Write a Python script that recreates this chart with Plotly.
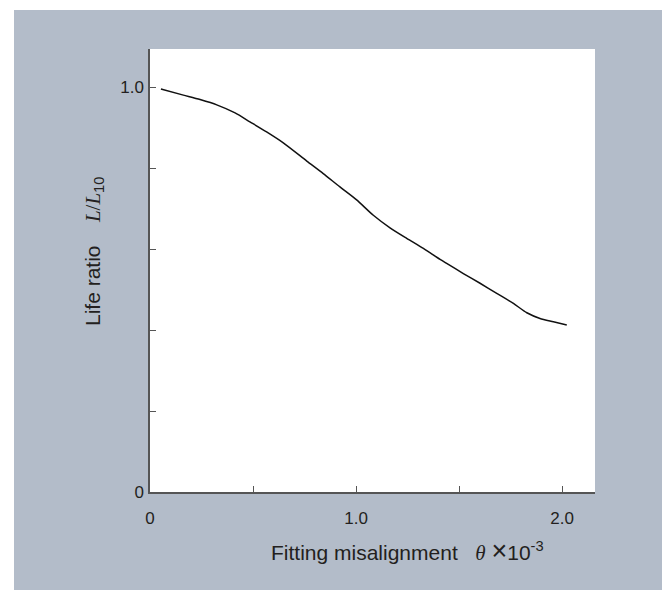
import plotly.graph_objects as go

# Data
misalignment = [0.053, 0.162, 0.243, 0.324, 0.413, 0.485, 0.566, 0.647,
                0.761, 0.841, 0.922, 1.003, 1.084, 1.165, 1.246, 1.327, 1.408,
                1.440, 1.521, 1.602, 1.683, 1.764, 1.829, 1.893, 1.958, 2.023]
life_ratio = [0.996, 0.981, 0.970, 0.957, 0.937, 0.915, 0.890, 0.863,
              0.818, 0.787, 0.754, 0.722, 0.684, 0.653, 0.627, 0.602, 0.575,
              0.565, 0.540, 0.516, 0.491, 0.466, 0.443, 0.429, 0.421, 0.413]

x_tickvals = [0, 0.5, 1.0, 1.5, 2.0]
x_ticktext = ["0", "", "1.0", "", "2.0"]
y_tickvals = [0, 0.2, 0.4, 0.6, 0.8, 1.0]
y_ticktext = ["0", "", "", "", "", "1.0"]

FONT = "Liberation Sans, Arial, Helvetica, sans-serif"
SERIF = "Liberation Serif, Times New Roman, serif"
TXT = "#231f20"
AX = "#555555"
BG = "#b3bcc9"

fig = go.Figure()
fig.add_trace(go.Scatter(x=misalignment, y=life_ratio, mode="lines",
                         line=dict(color="#111111", width=1.5, shape="spline", smoothing=0.7),
                         hoverinfo="skip", showlegend=False))

# page offset of 8px (default body margin) is compensated here
W, H = 662, 582
L, R, T, B = 142, 75, 41, 98
pw, ph = W - L - R, H - T - B


def px_x(x):
    return (x - 8 - L) / pw


def px_y(y):
    return (H - B - (y - 8)) / ph


fig.update_layout(
    width=W, height=H,
    margin=dict(l=L, r=R, t=T, b=B, pad=0),
    paper_bgcolor="white", plot_bgcolor="white",
    font=dict(family=FONT, size=17, color=TXT),
    shapes=[
        dict(type="rect", xref="paper", yref="paper", layer="below",
             x0=px_x(14), x1=px_x(665), y0=px_y(600), y1=px_y(10),
             fillcolor=BG, line=dict(width=0)),
        dict(type="rect", xref="paper", yref="paper", layer="below",
             x0=0, x1=1, y0=0, y1=1, fillcolor="white", line=dict(width=0)),
    ],
    xaxis=dict(range=[0, 2.16], tickvals=x_tickvals, ticktext=x_ticktext,
               ticks="inside", ticklen=6, tickcolor=AX, tickwidth=1,
               showline=True, linecolor=AX, linewidth=1.5, showgrid=False,
               zeroline=False, ticklabelstandoff=10,
               tickfont=dict(family=FONT, size=17, color=TXT)),
    yaxis=dict(range=[0, 1.095], tickvals=y_tickvals, ticktext=y_ticktext,
               ticks="inside", ticklen=6, tickcolor=AX, tickwidth=1,
               showline=True, linecolor=AX, linewidth=1.5, showgrid=False,
               zeroline=False, ticklabelstandoff=1,
               tickfont=dict(family=FONT, size=17, color=TXT)),
    annotations=[
        dict(xref="paper", yref="paper", x=px_x(407), y=px_y(551),
             xanchor="center", yanchor="middle", showarrow=False,
             text=("Fitting misalignment&nbsp;&nbsp;&nbsp;"
                   f"<span style='font-family:{SERIF}'><i>θ</i></span>&nbsp;"
                   "<span style='font-size:27px'>×</span>10<sup>-3</sup>"),
             font=dict(family=FONT, size=21, color=TXT)),
        dict(xref="paper", yref="paper", x=px_x(94), y=px_y(252),
             xanchor="center", yanchor="middle", showarrow=False, textangle=-90,
             text=("Life ratio&nbsp;&nbsp;&nbsp;&nbsp;"
                   f"<span style='font-family:{SERIF}'><i>L</i>/<i>L</i></span>"
                   "<sub>10</sub>"),
             font=dict(family=FONT, size=21, color=TXT)),
    ],
)

fig.write_html("out.html")
